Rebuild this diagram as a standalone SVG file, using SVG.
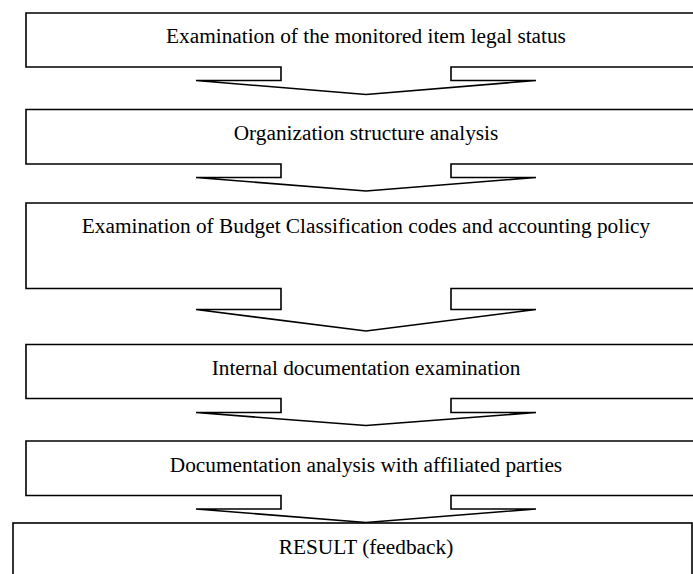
<svg xmlns="http://www.w3.org/2000/svg" width="693" height="574" viewBox="0 0 693 574">
  <style>
    .blk { fill: #ffffff; stroke: #000000; stroke-width: 1.6; stroke-linejoin: miter; }
    .lbl { font-family: "Liberation Serif", "Times New Roman", serif; font-size: 21.3px; fill: #000000; text-anchor: middle; }
  </style>
  <rect x="0" y="0" width="693" height="574" fill="#ffffff"/>
  <!-- each step is one outline: box body plus the arrow notch beneath it -->
  <g id="step1">
    <polygon class="blk" points="26,13 700,13 700,67 451,67 451,80.5 536,80.5 366,94.5 196,80.5 281,80.5 281,67 26,67"/>
    <text class="lbl" x="366" y="43">Examination of the monitored item legal status</text>
  </g>
  <g id="step2">
    <polygon class="blk" points="26,109.5 700,109.5 700,164 451,164 451,177.5 536,177.5 366,191 196,177.5 281,177.5 281,164 26,164"/>
    <text class="lbl" x="366" y="140">Organization structure analysis</text>
  </g>
  <g id="step3">
    <polygon class="blk" points="26,203 700,203 700,288.5 451,288.5 451,309.5 536,309.5 366,331 196,309.5 281,309.5 281,288.5 26,288.5"/>
    <text class="lbl" x="366" y="233">Examination of Budget Classification codes and accounting policy</text>
  </g>
  <g id="step4">
    <polygon class="blk" points="26,344.5 700,344.5 700,398.5 451,398.5 451,412.5 536,412.5 366,425.5 196,412.5 281,412.5 281,398.5 26,398.5"/>
    <text class="lbl" x="366" y="375">Internal documentation examination</text>
  </g>
  <g id="step5">
    <polygon class="blk" points="26,441 700,441 700,495.5 451,495.5 451,509 536,509 366,522.5 196,509 281,509 281,495.5 26,495.5"/>
    <text class="lbl" x="366" y="472">Documentation analysis with affiliated parties</text>
  </g>
  <g id="result">
    <rect class="blk" x="13" y="523" width="679" height="60"/>
    <text class="lbl" x="366" y="553.5">RESULT (feedback)</text>
  </g>
  <g id="connectors"></g>
</svg>
